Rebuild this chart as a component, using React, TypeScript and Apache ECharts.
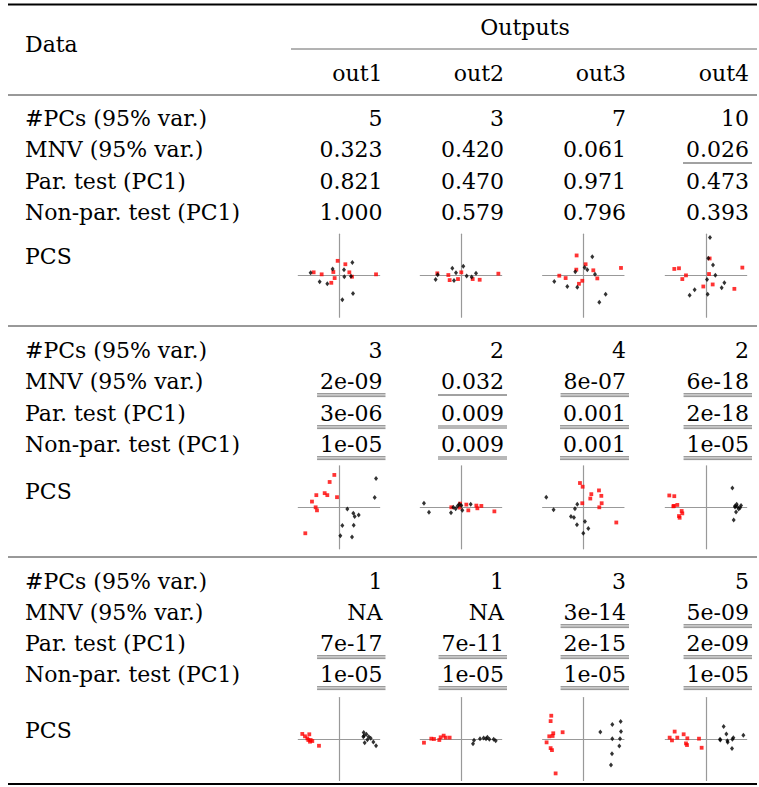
import React, { useEffect, useRef } from "react";
import * as echarts from "echarts";

const outputs = ["out1", "out2", "out3", "out4"];
const headerData = "Data";
const headerOutputs = "Outputs";
const rowLabels = ["#PCs (95% var.)", "MNV (95% var.)", "Par. test (PC1)", "Non-par. test (PC1)"];
const pcsLabel = "PCS";

const block1Values = [
  ["5", "3", "7", "10"],
  ["0.323", "0.420", "0.061", "0.026"],
  ["0.821", "0.470", "0.971", "0.473"],
  ["1.000", "0.579", "0.796", "0.393"],
];
const block1Underline = [[0, 0, 0, 0], [0, 0, 0, 1], [0, 0, 0, 0], [0, 0, 0, 0]];
const block2Values = [
  ["3", "2", "4", "2"],
  ["2e-09", "0.032", "8e-07", "6e-18"],
  ["3e-06", "0.009", "0.001", "2e-18"],
  ["1e-05", "0.009", "0.001", "1e-05"],
];
const block2Underline = [[0, 0, 0, 0], [3, 1, 3, 3], [3, 2, 3, 3], [3, 2, 3, 3]];
const block3Values = [
  ["1", "1", "3", "5"],
  ["NA", "NA", "3e-14", "5e-09"],
  ["7e-17", "7e-11", "2e-15", "2e-09"],
  ["1e-05", "1e-05", "1e-05", "1e-05"],
];
const block3Underline = [[0, 0, 0, 0], [0, 0, 3, 3], [3, 3, 3, 3], [3, 3, 3, 3]];

// PCS scatter points (PC1, PC2), per output; red = group A, black = group B
const pcs1Red = [
  [[-6.23, 0.81], [-4.26, 0.33], [-0.33, 3.58], [1.56, 2.76], [-1.39, 0.89], [2.54, 0.81], [3.2, -0.24], [-1.07, -0.57], [-1.89, -1.71], [9.1, 0.33]],
  [[-5.82, 0.57], [-3.11, 0.16], [-2.79, -1.06], [-0.74, -0.81], [0.08, 0.81], [2.87, -0.81], [4.59, -0.98], [9.18, 0.49]],
  [[-5.9, 0], [-4.34, -0.57], [-1.64, 4.88], [-1.72, 1.46], [0.57, 2.76], [2.46, 1.3], [3.44, -0.65], [-0.25, -1.22], [-1.07, -1.95], [9.26, 1.87]],
  [[-7.79, 1.63], [-6.64, 1.79], [-4.92, 0.08], [-5.82, -0.81], [0.9, 4.15], [0.74, 0.41], [1.64, -2.11], [-0.66, -2.6], [6.97, -3.17], [8.93, 1.95]],
];
const pcs1Black = [
  [[-6.97, 0.73], [-1.56, 1.63], [1.23, 1.46], [3.28, 3.17], [-4.75, -1.46], [-2.87, -1.95], [1.31, -0.24], [2.95, -0.16], [0.82, -5.77], [3.44, -4.31]],
  [[-6.23, -0.89], [-5.74, 0.24], [-2.13, 1.79], [-1.23, 0.73], [0.57, 2.28], [-1.72, -1.14], [1.39, -0.08], [2.62, -0.33], [3.69, 0.57]],
  [[-7.13, -1.38], [-3.93, -2.6], [-1.97, 0.98], [-1.48, -2.76], [0.33, 1.95], [0.98, 1.46], [2.21, 4.55], [2.87, 0.33], [3.93, -6.42], [5.49, -4.47]],
  [[0.98, 9.19], [0.57, 4.23], [1.72, 2.6], [2.3, 0.08], [0.25, -0.89], [0.41, -4.47], [-2.79, -3.41], [-4.02, -4.72], [3.85, -2.93], [4.51, -1.71]],
];
const pcs2Red = [
  [[-1.15, 7.8], [-2.3, 6.1], [-5.57, 2.93], [-3.52, 3.41], [-2.87, 2.93], [-0.49, 2.44], [-6.64, 1.38], [-5.74, 0], [-5.41, -0.73], [-8.28, -6.26]],
  [[-2.38, 0], [-0.25, 0.89], [-0.33, -0.08], [1.31, 0.65], [1.8, -0.73], [3.77, 0.41], [4.02, -0.24], [5.0, 0.33], [8.2, -0.98]],
  [[-0.82, 5.85], [-0.16, 4.96], [1.97, 3.17], [1.72, 2.11], [3.85, 4.07], [4.43, 2.76], [4.51, 0.98], [3.93, 0], [-0.25, 0.98], [8.11, -3.66]],
  [[-9.02, 2.85], [-7.79, 2.68], [-8.03, 0.24], [-7.87, 0.33], [-7.05, 0.57], [-5.98, -0.89], [-5.82, -1.46], [-6.64, -2.11], [-6.48, -2.52]],
];
const pcs2Black = [
  [[9.1, 6.91], [8.77, 2.36], [2.05, -0.41], [3.52, -1.46], [3.85, -2.2], [4.84, -1.87], [3.61, -4.31], [0.82, -4.39], [0.33, -6.83], [3.2, -7.15]],
  [[-9.1, 0.98], [-7.87, -1.22], [-2.46, -1.3], [-1.89, 0], [-1.31, -0.33], [-0.82, 0.33], [-0.41, 0.73], [0.08, 0.41], [0.33, -0.73], [2.38, 0.73]],
  [[-9.1, 2.44], [-7.3, -0.57], [-2.05, -0.33], [-1.48, 0.73], [-3.03, -2.2], [-2.3, -2.44], [0.41, -3.41], [-1.56, -4.23], [1.23, -5.12], [0, -6.26]],
  [[6.48, 4.63], [7.54, 0.73], [7.13, 0.33], [8.61, 0.41], [8.03, -0.41], [7.38, -1.14], [6.8, -3.09], [8.36, -0.08], [7.13, 0.08], [7.7, 0.16]],
];
const pcs3Red = [
  [[-9.02, 1.22], [-8.36, 0.65], [-7.3, 1.14], [-7.79, 0.16], [-7.54, -0.24], [-7.13, -0.65], [-6.56, -0.49], [-4.92, -1.63], [-6.97, -0.24]],
  [[-9.1, -0.89], [-7.3, 0.08], [-6.64, 0], [-5.33, -0.24], [-5.0, 0.41], [-4.26, 0.81], [-3.77, 0.33], [-2.79, 0.33]],
  [[-7.87, 5.61], [-8.03, 4.31], [-7.38, 1.38], [-7.54, 0.73], [-8.36, 0.65], [-5.08, 1.63], [-9.02, -0.81], [-8.03, -2.2], [-7.7, -2.68], [-6.8, -8.29]],
  [[-8.93, 0.33], [-8.36, -0.33], [-7.7, 1.79], [-7.05, 0.33], [-5.49, 1.14], [-4.59, 0.16], [-4.92, -1.06], [-4.67, -1.46], [-1.72, 0.08], [-1.07, -2.11]],
];
const pcs3Black = [
  [[6.07, 1.54], [6.15, 0.81], [6.72, 1.14], [7.3, 0.57], [7.79, 0.16], [6.97, -0.16], [6.31, -0.89], [8.44, -0.73], [9.1, -1.63], [5.98, 0.57]],
  [[2.95, -1.14], [3.2, -0.33], [4.67, 0.08], [5.57, 0.24], [6.48, 0.41], [6.97, -0.08], [8.03, -0.08], [8.52, -0.41], [6.15, 0.08]],
  [[4.18, 1.71], [7.13, 3.5], [9.18, 4.23], [9.26, 1.79], [7.13, 0.08], [9.02, 0.08], [8.85, -1.71], [7.05, -3.58], [6.8, -6.26]],
  [[4.34, 3.01], [5.0, 1.22], [3.44, -0.08], [5.25, -0.41], [5.33, -0.81], [6.48, -0.08], [6.72, 0.33], [6.39, -2.28], [9.18, 0.89], [3.52, -0.24]],
];

const blocks = [
  { values: block1Values, underline: block1Underline, red: pcs1Red, black: pcs1Black },
  { values: block2Values, underline: block2Underline, red: pcs2Red, black: pcs2Black },
  { values: block3Values, underline: block3Underline, red: pcs3Red, black: pcs3Black },
];

// layout (pixels)
const W = 759;
const H = 787;
const FONT_FAMILY = "'DejaVu Serif', 'Liberation Serif', serif";
const FS = 22;
const labelX = 25;
const colRight = [382.5, 504, 626, 749];
const plotCx = [339, 461, 583.3, 706];
const blockRowY = [
  [118, 149, 181, 212],
  [350, 381, 413, 444],
  [581, 612, 643, 674],
];
const blockPcsY = [256, 491, 730];
const blockPlotCy = [275.7, 507.3, 739];
const plotHalfW = 40.7;
const plotHalfH = 41.5;

function measure(t: string): number {
  const c = document.createElement("canvas").getContext("2d");
  if (!c) return t.length * FS * 0.6;
  c.font = `${FS}px ${FONT_FAMILY}`;
  return c.measureText(t).width;
}

export default function App() {
  const ref = useRef<HTMLDivElement>(null);
  useEffect(() => {
    if (!ref.current) return;
    const chart = echarts.init(ref.current, undefined, { renderer: "svg" });
    const graphics: any[] = [];
    const txt = (x: number, y: number, s: string, align: string) =>
      graphics.push({
        type: "text",
        x,
        y,
        style: {
          text: s,
          fontFamily: FONT_FAMILY,
          fontSize: FS,
          fill: "#000",
          align,
          verticalAlign: "middle",
        },
      });
    const hline = (x1: number, x2: number, y: number, w: number, color: string) =>
      graphics.push({ type: "line", shape: { x1, y1: y, x2, y2: y }, style: { stroke: color, lineWidth: w } });

    // rules
    hline(8, 757, 4.5, 1.8, "#000");
    hline(291, 757, 49, 1, "#666");
    hline(8, 757, 95, 1, "#333");
    hline(8, 757, 326, 1, "#333");
    hline(8, 757, 557, 1, "#333");
    hline(8, 757, 784, 1.8, "#000");

    txt(labelX, 44, headerData, "left");
    txt(525, 27, headerOutputs, "center");
    outputs.forEach((o, i) => txt(colRight[i], 73, o, "right"));

    const grids: any[] = [];
    const xAxes: any[] = [];
    const yAxes: any[] = [];
    const series: any[] = [];

    blocks.forEach((b, bi) => {
      rowLabels.forEach((lab, ri) => {
        const y = blockRowY[bi][ri];
        txt(labelX, y, lab, "left");
        b.values[ri].forEach((v, ci) => {
          const xr = colRight[ci];
          txt(xr, y, v, "right");
          const lvl = b.underline[ri][ci];
          if (lvl > 0) {
            const w = measure(v);
            const x1 = xr - w - 3;
            const x2 = xr + 3;
            if (lvl === 1) hline(x1, x2, y + 14, 1, "#444");
            else if (lvl === 2) {
              hline(x1, x2, y + 13, 0.7, "#333");
              hline(x1, x2, y + 15, 0.7, "#333");
            } else {
              hline(x1, x2, y + 12.6, 0.55, "#333");
              hline(x1, x2, y + 14.1, 0.55, "#333");
              hline(x1, x2, y + 15.6, 0.55, "#333");
            }
          }
        });
      });
      txt(labelX, blockPcsY[bi], pcsLabel, "left");

      outputs.forEach((_, ci) => {
        const gi = bi * 4 + ci;
        grids.push({
          left: plotCx[ci] - plotHalfW,
          top: blockPlotCy[bi] - plotHalfH,
          width: plotHalfW * 2,
          height: plotHalfH * 2,
          containLabel: false,
        });
        const ax = {
          type: "value",
          gridIndex: gi,
          min: -10,
          max: 10,
          axisLine: { show: true, onZero: true, lineStyle: { color: "#999", width: 1.2 } },
          axisTick: { show: false },
          axisLabel: { show: false },
          splitLine: { show: false },
        };
        xAxes.push({ ...ax });
        yAxes.push({ ...ax });
        series.push({
          type: "scatter",
          xAxisIndex: gi,
          yAxisIndex: gi,
          data: b.red[ci],
          symbol: "rect",
          symbolSize: 3.8,
          itemStyle: { color: "#ff0000" },
          silent: true,
        });
        series.push({
          type: "scatter",
          xAxisIndex: gi,
          yAxisIndex: gi,
          data: b.black[ci],
          symbol: "diamond",
          symbolSize: [4, 5],
          itemStyle: { color: "#000" },
          silent: true,
        });
      });
    });

    chart.setOption({
      animation: false,
      backgroundColor: "#fff",
      grid: grids,
      xAxis: xAxes,
      yAxis: yAxes,
      series,
      graphic: graphics,
    });
    return () => chart.dispose();
  }, []);
  return <div ref={ref} style={{ position: "fixed", left: 0, top: 0, width: W, height: H }} />;
}
